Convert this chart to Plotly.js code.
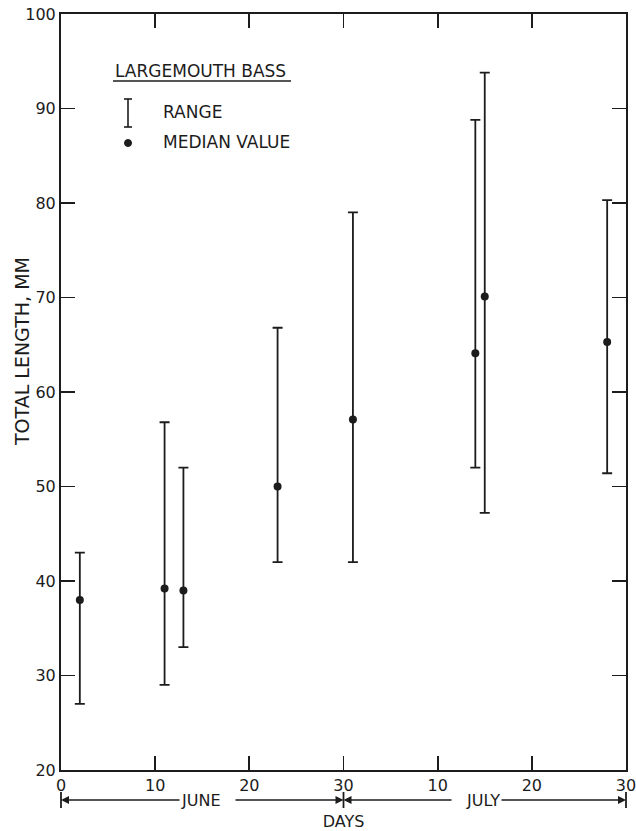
<!DOCTYPE html>
<html><head><meta charset="utf-8">
<script src="https://cdn.plot.ly/plotly-3.0.1.min.js"></script>
<style>html,body{margin:0;padding:0;background:#fff}#chart{width:636px;height:831px}</style>
</head><body><div id="chart"></div>
<script>
// Data (day counted from June 0; July days = 30 + day of July)
const days = [2, 11, 13, 23, 31, 44, 45, 58];
const medianLength = [38, 39.2, 39, 50, 57.1, 64.1, 70.1, 65.3];
const minLength = [27, 29, 33, 42, 42, 52, 47.2, 51.4];
const maxLength = [43, 56.8, 52, 66.8, 79, 88.8, 93.8, 80.3];
const xTickVals = [0, 10, 20, 30, 40, 50, 60];
const xTickText = ['0', '10', '20', '30', '10', '20', '30'];
const monthLabels = ['JUNE', 'JULY'];
const legendTitle = 'LARGEMOUTH BASS';
const legendLabels = ['RANGE', 'MEDIAN VALUE'];

const ink = '#1c1c1c';
const fam = 'DejaVu Sans, Liberation Sans, sans-serif';

const errUp = maxLength.map((v, i) => v - medianLength[i]);
const errDown = medianLength.map((v, i) => v - minLength[i]);

const W = 636, H = 831, ML = 61, MR = 10, MT = 14, MB = 61;
const PW = W - ML - MR, PH = H - MT - MB;
const px = x => (x - ML) / PW;
const py = y => (H - MB - y) / PH;

const trace = {
  type: 'scatter', mode: 'markers', x: days, y: medianLength,
  marker: {size: 8, color: ink},
  error_y: {type: 'data', symmetric: false, array: errUp, arrayminus: errDown,
            color: ink, thickness: 1.8, width: 5},
  showlegend: false, hoverinfo: 'skip'
};

const lineY = py(800);
const arrowCommon = {xref: 'paper', yref: 'paper', y: lineY, ay: 0, showarrow: true,
  arrowhead: 2, arrowsize: 1, arrowwidth: 1.6, arrowcolor: ink,
  font: {family: fam, size: 16, color: ink}};
const annotations = [
  {text: 'TOTAL LENGTH, MM', xref: 'paper', yref: 'paper', x: px(22), y: py(352),
   xanchor: 'center', yanchor: 'middle',
   textangle: -90, showarrow: false, font: {family: fam, size: 19, color: ink}},
  {text: legendTitle, xref: 'paper', yref: 'paper', x: px(113), y: py(71),
   xanchor: 'left', yanchor: 'middle',
   showarrow: false, font: {family: fam, size: 17, color: ink}},
  {text: legendLabels[0], xref: 'paper', yref: 'paper', x: px(161), y: py(112),
   xanchor: 'left', yanchor: 'middle',
   showarrow: false, font: {family: fam, size: 17, color: ink}},
  {text: legendLabels[1], xref: 'paper', yref: 'paper', x: px(161), y: py(142),
   xanchor: 'left', yanchor: 'middle',
   showarrow: false, font: {family: fam, size: 17, color: ink}},
  // Month arrows
  Object.assign({text: monthLabels[0], x: 0, ax: 140}, arrowCommon),
  Object.assign({text: ' ', x: 0.5, ax: -112}, arrowCommon),
  Object.assign({text: ' ', x: 0.5, ax: 112}, arrowCommon),
  Object.assign({text: monthLabels[1], x: 1, ax: -143}, arrowCommon)
];

const bar = (xp) => ({type: 'line', xref: 'paper', yref: 'paper', x0: xp, x1: xp,
  y0: py(792), y1: py(808), line: {color: ink, width: 1.8}});
const shapes = [
  bar(0), bar(0.5), bar(1),
  // legend underline
  {type: 'line', xref: 'paper', yref: 'paper', x0: px(113), x1: px(291), y0: py(81), y1: py(81),
   line: {color: ink, width: 1.6}},
  // legend I-bar
  {type: 'line', xref: 'paper', yref: 'paper', x0: px(128), x1: px(128), y0: py(99), y1: py(127),
   line: {color: ink, width: 1.6}},
  {type: 'line', xref: 'paper', yref: 'paper', x0: px(124), x1: px(132), y0: py(99), y1: py(99),
   line: {color: ink, width: 1.6}},
  {type: 'line', xref: 'paper', yref: 'paper', x0: px(124), x1: px(132), y0: py(127), y1: py(127),
   line: {color: ink, width: 1.6}},
  // legend dot
  {type: 'circle', xref: 'paper', yref: 'paper', x0: px(124.5), x1: px(131.5), y0: py(139.5), y1: py(146.5),
   fillcolor: ink, line: {color: ink, width: 1}}
];

const axisCommon = {
  ticks: 'inside', ticklen: 14, tickwidth: 1.8, tickcolor: ink,
  showline: true, linewidth: 2, linecolor: ink, mirror: 'ticks',
  showgrid: false, zeroline: false, ticklabeloverflow: 'allow',
  tickfont: {family: fam, size: 16, color: ink}
};

const layout = {
  width: W, height: H,
  margin: {l: ML, r: MR, t: MT, b: MB},
  paper_bgcolor: '#fff', plot_bgcolor: '#fff',
  showlegend: false,
  xaxis: Object.assign({}, axisCommon, {
    range: [0, 60], tickmode: 'array', tickvals: xTickVals, ticktext: xTickText,
    title: {text: 'DAYS', font: {family: fam, size: 16, color: ink}, standoff: 24}
  }),
  yaxis: Object.assign({}, axisCommon, {
    range: [20, 100], tickmode: 'linear', tick0: 20, dtick: 10
  }),
  annotations: annotations,
  shapes: shapes
};

Plotly.newPlot('chart', [trace], layout, {displayModeBar: false, staticPlot: true});
</script>
</body></html>
